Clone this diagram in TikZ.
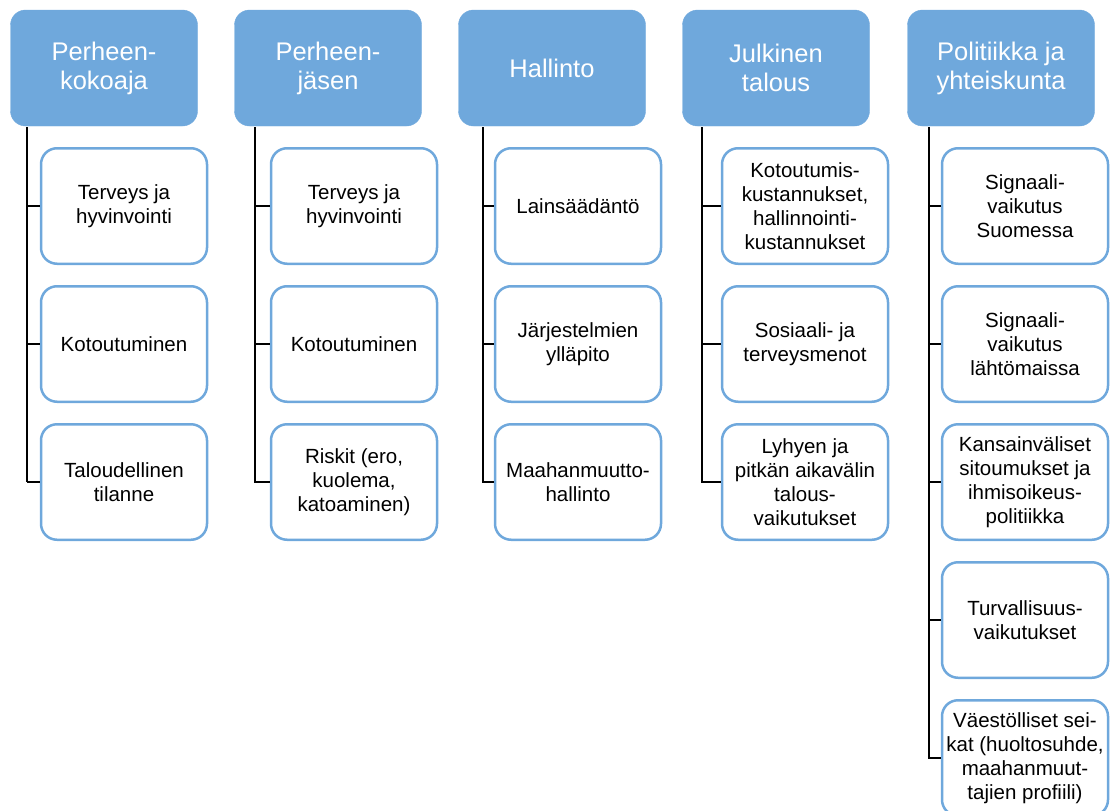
\documentclass[tikz,border=0pt]{standalone}
\usepackage{fontspec}
\setmainfont{Liberation Sans}
\usetikzlibrary{positioning}
\definecolor{boxblue}{RGB}{111,168,220}

\tikzset{
	head/.style={draw=boxblue,fill=boxblue,rounded corners=15pt,minimum width=187pt,minimum height=116pt,
		align=center,text=white,font=\fontsize{25.5}{29}\selectfont},
	item/.style={draw=boxblue,line width=2.5pt,fill=white,rounded corners=16pt,minimum width=166pt,minimum height=115.5pt,
		inner sep=2pt,align=center,font=\fontsize{20.5}{24}\selectfont},
	link/.style={draw=black,line width=2pt}
}

\begin{document}
\begin{tikzpicture}[x=1pt,y=1pt]
\useasboundingbox (0,0) rectangle (1111,-811);

% headers
\node[head] (fam) at (104,-68) {Perheen-\\kokoaja};
\node[head] (mem) at (328,-68) {Perheen-\\jäsen};
\node[head] (adm) at (552,-68) {Hallinto};
\node[head] (pub) at (776,-68) {Julkinen\\talous};
\node[head] (pol) at (1001,-68) {Politiikka ja\\yhteiskunta};

% first column
\node[item] (fam-1) at (124,-206) {Terveys ja\\hyvinvointi};
\node[item,below=20pt of fam-1] (fam-2) {Kotoutuminen};
\node[item,below=20pt of fam-2] (fam-3) {Taloudellinen\\tilanne};

% second column
\node[item] (mem-1) at (354,-206) {Terveys ja\\hyvinvointi};
\node[item,below=20pt of mem-1] (mem-2) {Kotoutuminen};
\node[item,below=20pt of mem-2] (mem-3) {Riskit (ero,\\kuolema,\\katoaminen)};

% third column
\node[item] (adm-1) at (578,-206) {Lainsäädäntö};
\node[item,below=20pt of adm-1] (adm-2) {Järjestelmien\\ylläpito};
\node[item,below=20pt of adm-2] (adm-3) {Maahanmuutto-\\hallinto};

% fourth column
\node[item] (pub-1) at (805,-206) {Kotoutumis-\\kustannukset,\\hallinnointi-\\kustannukset};
\node[item,below=20pt of pub-1] (pub-2) {Sosiaali- ja\\terveysmenot};
\node[item,below=20pt of pub-2] (pub-3) {Lyhyen ja\\pitkän aikavälin\\talous-\\vaikutukset};

% fifth column
\node[item] (pol-1) at (1025,-206) {Signaali-\\vaikutus\\Suomessa};
\node[item,below=20pt of pol-1] (pol-2) {Signaali-\\vaikutus\\lähtömaissa};
\node[item,below=20pt of pol-2] (pol-3) {Kansainväliset\\sitoumukset ja\\ihmisoikeus-\\politiikka};
\node[item,below=20pt of pol-3] (pol-4) {Turvallisuus-\\vaikutukset};
\node[item,below=20pt of pol-4] (pol-5) {Väestölliset sei-\\kat (huoltosuhde,\\maahanmuut-\\tajien profiili)};

% connectors
\coordinate (fam-l) at (27,-127);
\coordinate (mem-l) at (255,-127);
\coordinate (adm-l) at (483,-127);
\coordinate (pub-l) at (702,-127);
\coordinate (pol-l) at (929,-127);

\path[link]
(fam-l) edge (fam-l |- fam-1.west) (fam-l |- fam-1.west) edge (fam-1.west)
(fam-l |- fam-1.west) edge (fam-l |- fam-2.west) (fam-l |- fam-2.west) edge (fam-2.west)
(fam-l |- fam-2.west) edge (fam-l |- fam-3.west) (fam-l |- fam-3.west) edge (fam-3.west);
\draw[link] (mem-l) |- (mem-3.west) (mem-l |- mem-1.west) -- (mem-1.west) (mem-l |- mem-2.west) -- (mem-2.west);
\draw[link] (adm-l) |- (adm-3.west) (adm-l |- adm-1.west) -- (adm-1.west) (adm-l |- adm-2.west) -- (adm-2.west);
\draw[link] (pub-l) |- (pub-3.west) (pub-l |- pub-1.west) -- (pub-1.west) (pub-l |- pub-2.west) -- (pub-2.west);
\draw[link] (pol-l) |- (pol-5.west) (pol-l |- pol-1.west) -- (pol-1.west) (pol-l |- pol-2.west) -- (pol-2.west)
(pol-l |- pol-3.west) -- (pol-3.west) (pol-l |- pol-4.west) -- (pol-4.west);
\end{tikzpicture}
\end{document}
